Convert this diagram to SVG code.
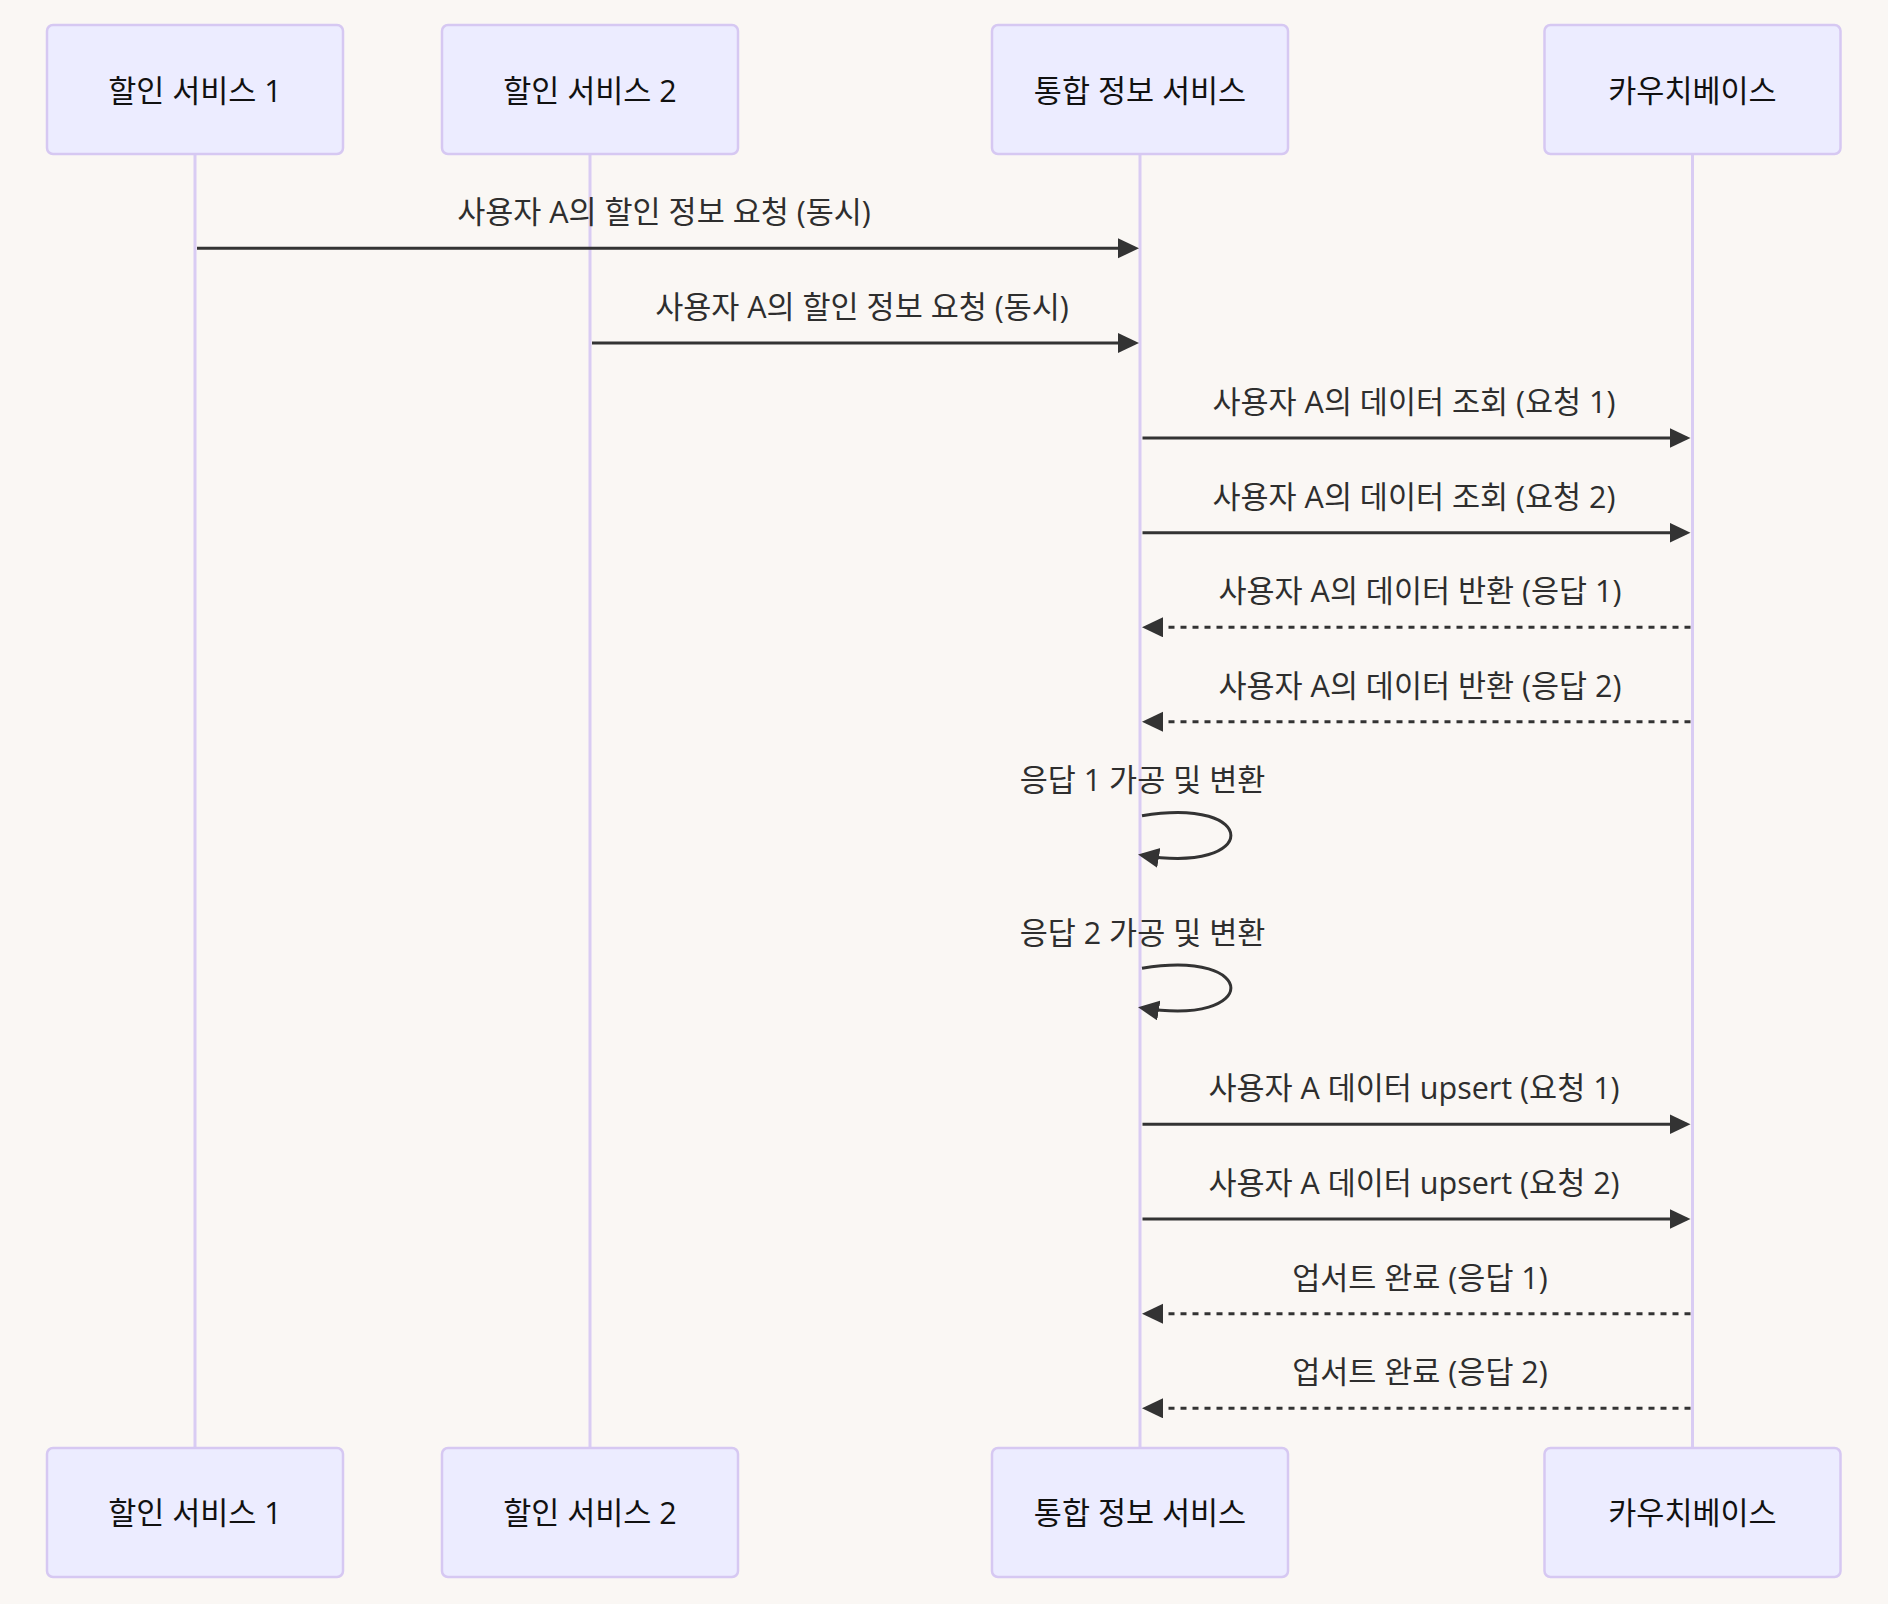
<svg xmlns="http://www.w3.org/2000/svg" width="1888" height="1604" viewBox="0 0 1888 1604">
<style>
.bg{fill:#faf7f4}
.actor{fill:#ececff;stroke:#d6c8f2;stroke-width:2.5}
.life{stroke:#d9ccf3;stroke-width:3}
.atext{font-family:"Open Sans","Noto Sans CJK KR",sans-serif;font-size:30.5px;fill:#111;text-anchor:middle}
.mtext{font-family:"Open Sans","Noto Sans CJK KR",sans-serif;font-size:30.5px;fill:#2e2e2e;text-anchor:middle}
.msg{stroke:#333;stroke-width:3;fill:none;marker-end:url(#ah)}
.dash{stroke-dasharray:6,6}
</style>
<defs>
<marker id="ah" markerUnits="userSpaceOnUse" markerWidth="22" markerHeight="21" refX="17" refY="10" orient="auto">
<path d="M0,0 L21,10 L0,20 z" fill="#333"/>
</marker>
</defs>
<rect class="bg" x="0" y="0" width="1888" height="1604"/>
<g id="lifelines">
<line class="life" x1="195" y1="154" x2="195" y2="1448"/>
<line class="life" x1="590" y1="154" x2="590" y2="1448"/>
<line class="life" x1="1140" y1="154" x2="1140" y2="1448"/>
<line class="life" x1="1692.5" y1="154" x2="1692.5" y2="1448"/>
</g>
<g id="actor-ds1-top"><rect class="actor" x="47" y="25" width="296" height="129" rx="6"/><text class="atext" x="195" y="101.5">할인 서비스 1</text></g>
<g id="actor-ds2-top"><rect class="actor" x="442" y="25" width="296" height="129" rx="6"/><text class="atext" x="590" y="101.5">할인 서비스 2</text></g>
<g id="actor-info-top"><rect class="actor" x="992" y="25" width="296" height="129" rx="6"/><text class="atext" x="1140" y="101.5">통합 정보 서비스</text></g>
<g id="actor-cb-top"><rect class="actor" x="1544.5" y="25" width="296" height="129" rx="6"/><text class="atext" x="1692.5" y="101.5">카우치베이스</text></g>
<g id="actor-ds1-bottom"><rect class="actor" x="47" y="1448" width="296" height="129" rx="6"/><text class="atext" x="195" y="1524">할인 서비스 1</text></g>
<g id="actor-ds2-bottom"><rect class="actor" x="442" y="1448" width="296" height="129" rx="6"/><text class="atext" x="590" y="1524">할인 서비스 2</text></g>
<g id="actor-info-bottom"><rect class="actor" x="992" y="1448" width="296" height="129" rx="6"/><text class="atext" x="1140" y="1524">통합 정보 서비스</text></g>
<g id="actor-cb-bottom"><rect class="actor" x="1544.5" y="1448" width="296" height="129" rx="6"/><text class="atext" x="1692.5" y="1524">카우치베이스</text></g>
<g id="connectors">
<line class="msg" x1="197" y1="248.3" x2="1135" y2="248.3"/>
<line class="msg" x1="592" y1="343" x2="1135" y2="343"/>
<line class="msg" x1="1142.5" y1="438" x2="1686.5" y2="438"/>
<line class="msg" x1="1142.5" y1="532.7" x2="1686.5" y2="532.7"/>
<line class="msg dash" x1="1690.5" y1="627.3" x2="1146" y2="627.3"/>
<line class="msg dash" x1="1690.5" y1="721.7" x2="1146" y2="721.7"/>
<path class="msg" d="M1142,815.7 C1260.5,795.9 1260.5,874.9 1142,855.2"/>
<path class="msg" d="M1142,968.3 C1260.5,948.5 1260.5,1027.5 1142,1007.8"/>
<line class="msg" x1="1142.5" y1="1124.3" x2="1686.5" y2="1124.3"/>
<line class="msg" x1="1142.5" y1="1219" x2="1686.5" y2="1219"/>
<line class="msg dash" x1="1690.5" y1="1313.7" x2="1146" y2="1313.7"/>
<line class="msg dash" x1="1690.5" y1="1408.3" x2="1146" y2="1408.3"/>
</g>
<g id="labels">
<text class="mtext" x="664" y="223">사용자 A의 할인 정보 요청 (동시)</text>
<text class="mtext" x="862" y="318">사용자 A의 할인 정보 요청 (동시)</text>
<text class="mtext" x="1414" y="413">사용자 A의 데이터 조회 (요청 1)</text>
<text class="mtext" x="1414" y="507.7">사용자 A의 데이터 조회 (요청 2)</text>
<text class="mtext" x="1420" y="602.3">사용자 A의 데이터 반환 (응답 1)</text>
<text class="mtext" x="1420" y="696.7">사용자 A의 데이터 반환 (응답 2)</text>
<text class="mtext" x="1142.5" y="791">응답 1 가공 및 변환</text>
<text class="mtext" x="1142.5" y="944">응답 2 가공 및 변환</text>
<text class="mtext" x="1414" y="1099">사용자 A 데이터 upsert (요청 1)</text>
<text class="mtext" x="1414" y="1194">사용자 A 데이터 upsert (요청 2)</text>
<text class="mtext" x="1420" y="1288.7">업서트 완료 (응답 1)</text>
<text class="mtext" x="1420" y="1383.3">업서트 완료 (응답 2)</text>
</g>
</svg>
